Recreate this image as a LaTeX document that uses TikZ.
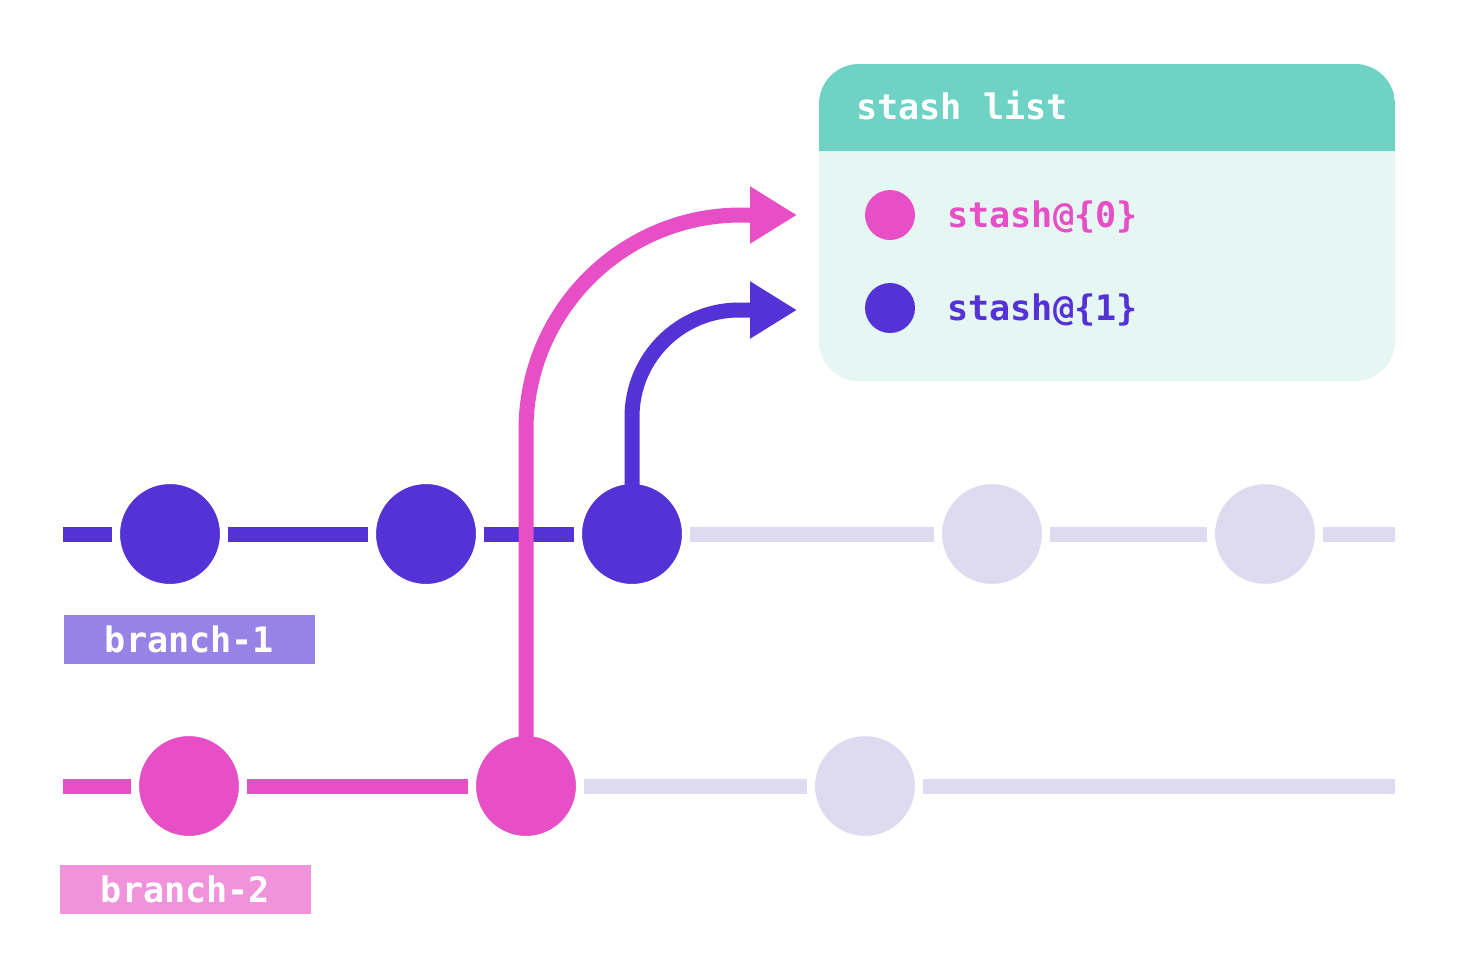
\documentclass[tikz,border=0pt]{standalone}
\usepackage{fontspec}
\setmonofont{DejaVu Sans Mono}
\usetikzlibrary{arrows.meta,positioning}
\definecolor{branchone}{HTML}{5432D6}
\definecolor{branchtwo}{HTML}{E64FC6}
\definecolor{ghost}{HTML}{DEDBF0}
\definecolor{tagone}{HTML}{9782E6}
\definecolor{tagtwo}{HTML}{F093DB}
\definecolor{stashhead}{HTML}{6ED2C5}
\definecolor{stashbody}{HTML}{E6F6F2}
\begin{document}
\begin{tikzpicture}[x=0.02cm, y=-0.02cm,
  every node/.style={font={\fontsize{20}{24}\selectfont\ttfamily\bfseries}},
  commit/.style={circle, draw=white, line width=0.16cm, inner sep=0, minimum size=2.16cm},
  dot/.style={circle, inner sep=0, minimum size=1cm},
  track/.style={line width=0.3cm},
  branchtag/.style={rectangle, inner sep=0, minimum width=5.02cm, minimum height=0.98cm, text=white},
  entry/.style={anchor=base west, inner sep=0},
  jump/.style={line width=0.3cm, -{Triangle[length=0.94cm,width=1.08cm]}}]
\path[use as bounding box, fill=white] (0,0) rectangle (1457,965);
\coordinate (b1start) at (63,534);
\coordinate (b1end) at (1395,534);
\coordinate (b2start) at (63,786);
\coordinate (b2end) at (1395,786);
\coordinate (s0in) at (797,215);
\coordinate (s1in) at (797,310);
\node[commit, fill=branchone] (c11) at (170,534) {};
\node[commit, fill=branchone] (c12) at (426,534) {};
\node[commit, fill=branchone] (c13) at (632,534) {};
\node[commit, fill=ghost] (c14) at (992,534) {};
\node[commit, fill=ghost] (c15) at (1265,534) {};
\node[commit, fill=branchtwo] (c21) at (189,786) {};
\node[commit, fill=branchtwo] (c22) at (526,786) {};
\node[commit, fill=ghost] (c23) at (865,786) {};
\fill[stashbody, rounded corners=0.8cm] (819,64) rectangle (1395,381);
\begin{scope}
\clip[rounded corners=0.8cm] (819,64) rectangle (1395,381);
\fill[stashhead] (819,64) rectangle (1395,151);
\end{scope}
\node[entry, text=white] (title) at (856,119) {stash list};
\node[dot, fill=branchtwo] (d0) at (890,215) {};
\node[dot, fill=branchone] (d1) at (890,308) {};
\node[entry, text=branchtwo] (s0) at (947,227) {stash@\{0\}};
\node[entry, text=branchone] (s1) at (947,320) {stash@\{1\}};
\node[branchtag, fill=tagone] (tag1) at (189.5,639.5) {branch-1};
\node[branchtag, fill=tagtwo] (tag2) at (185.5,889.5) {branch-2};
\draw[track, ghost] (c13) -- (c14) -- (c15) -- (b1end);
\draw[track, branchone] (b1start) -- (c11) -- (c12) -- (c13);
\draw[track, ghost] (c22) -- (c23) -- (b2end);
\draw[track, branchtwo] (b2start) -- (c21) -- (c22);
\draw[jump, branchone, rounded corners=2.14cm] (c13.center) |- (s1in);
\draw[jump, branchtwo, rounded corners=4.3cm] (c22.center) |- (s0in);
\end{tikzpicture}
\end{document}
